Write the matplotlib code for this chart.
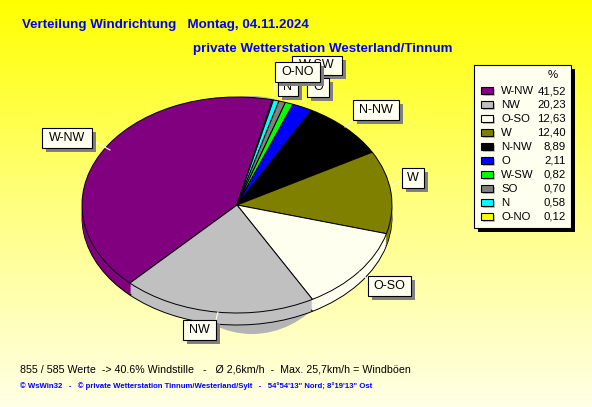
#!/usr/bin/env python3

import matplotlib
matplotlib.use('Agg')
import matplotlib.pyplot as plt
import numpy as np
from matplotlib.patches import Ellipse, Rectangle

plt.rcParams['font.family'] = ['Liberation Sans', 'DejaVu Sans']

# values in pie order, clockwise
pie_names = ['W-NW', 'O-NO', 'N', 'SO', 'W-SW', 'O', 'N-NW', 'W', 'O-SO', 'NW']
pie_values = [41.52, 0.12, 0.58, 0.70, 0.82, 2.11, 8.89, 12.40, 12.63, 20.23]
pie_colors = ['#800080', '#ffff00', '#00ffff', '#808080', '#00ff00', '#0000ff',
    '#000000', '#808000', '#fffff0', '#c0c0c0']

legend_names = ['W-NW', 'NW', 'O-SO', 'W', 'N-NW', 'O', 'W-SW', 'SO', 'N', 'O-NO']
legend_values = ['41,52', '20,23', '12,63', '12,40', '8,89', '2,11', '0,82',
    '0,70', '0,58', '0,12']

W, H = 592, 407
fig = plt.figure(figsize=(W / 100, H / 100), dpi=100)

# background gradient
bg = fig.add_axes([0, 0, 1, 1])
bg.axis('off')
grad = np.linspace(0, 1, 256).reshape(-1, 1)
cmap = matplotlib.colors.LinearSegmentedColormap.from_list('bg',
    ['#ffff00', '#ffff80', '#ffffe6'])
bg.imshow(grad, aspect='auto', cmap=cmap, extent=(0, W, H, 0))
bg.set_xlim(0, W)
bg.set_ylim(H, 0)

# pie axes: ellipse squeezed through the axis limits
cx, cy, rx, ry, depth = 237, 205, 155, 108, 12
pie = fig.add_axes([0, 0, 1, 1])
pie.patch.set_alpha(0)

bg.add_patch(Ellipse((252, 215), 200, 238, color='#b4b4b4', lw=0, zorder=1))

for dy in list(range(depth, 0, -2)) + [0]:
    pie.pie(pie_values, colors=pie_colors, startangle=226.3,
        counterclock=False, center=(0, -dy / ry), radius=1,
        wedgeprops=dict(edgecolor='black' if dy in (depth, 0) else 'none',
            linewidth=0.7))

pie.set_aspect('auto')
pie.set_xlim(-cx / rx, (W - cx) / rx)
pie.set_ylim((cy - H) / ry, cy / ry)
pie.axis('off')

# overlay in pixels
top = fig.add_axes([0, 0, 1, 1])
top.patch.set_alpha(0)
top.set_xlim(0, W)
top.set_ylim(H, 0)
top.axis('off')

FS = 8.2
layer = [4]


def box(x0, y0, x1, y1, text, leader):
    z = layer[0]
    layer[0] += 1
    top.plot(leader[0], leader[1], color='#fffff0', lw=0.8, zorder=3)
    top.add_patch(Rectangle((x0 + 4, y0 + 4), x1 - x0, y1 - y0, color='#808080',
        lw=0, zorder=z))
    top.add_patch(Rectangle((x0, y0), x1 - x0, y1 - y0, fc='#fffff0', ec='black',
        lw=0.8, zorder=z))
    top.text((x0 + x1) / 2, (y0 + y1) / 2, text, ha='center', va='center',
        fontsize=9, zorder=z, clip_on=True)


box(42, 128, 92, 148, 'W-NW', ([92, 110], [140, 150]))
box(353, 100, 399, 120, 'N-NW', ([353, 345], [120, 127]))
box(402, 168, 424, 188, 'W', ([402, 392], [180, 185]))
box(368, 276, 411, 296, 'O-SO', ([368, 360], [280, 272]))
box(183, 320, 216, 340, 'NW', ([216, 218], [320, 312]))
box(292, 56, 342, 75, 'W-SW', ([292, 287], [75, 98]))
box(307, 78, 329, 97, 'O', ([307, 302], [97, 102]))
box(278, 78, 298, 96, 'N', ([285, 280], [96, 98]))
box(275, 62, 320, 82, 'O-NO', ([275, 273], [82, 97]))

# legend
top.add_patch(Rectangle((478, 69), 97, 163, color='black', lw=0, zorder=2))
top.add_patch(Rectangle((474, 65), 97, 163, fc='#fffff0', ec='black', lw=0.8, zorder=3))
top.text(553, 75, '%', ha='center', va='center', fontsize=FS, zorder=4)
color_of = dict(zip(pie_names, pie_colors))
for i, (name, value) in enumerate(zip(legend_names, legend_values)):
    y = 91 + 13.95 * i
    top.add_patch(Rectangle((483, y - 2), 12, 7, color='#c0c0c0', lw=0, zorder=4))
    top.add_patch(Rectangle((481, y - 4), 12, 7, fc=color_of[name], ec='black',
        lw=0.8, zorder=5))
    top.text(501, y, name, va='center', fontsize=FS, zorder=4)
    top.text(566, y, value, ha='right', va='center', fontsize=FS, zorder=4)

# texts
top.text(22, 25, 'Verteilung Windrichtung   Montag, 04.11.2024', color='#0000ff',
    fontweight='bold', fontsize=9.6, va='center')
top.text(193, 49, 'private Wetterstation Westerland/Tinnum', color='#0000ff',
    fontweight='bold', fontsize=9.6, va='center')
top.text(20, 369, '855 / 585 Werte  -> 40.6% Windstille   -   Ø 2,6km/h  -  '
    'Max. 25,7km/h = Windböen', fontsize=7.7, va='center')
top.text(20, 386, '© WsWin32   -   © private Wetterstation Tinnum/Westerland/Sylt'
    '   -   54°54\'13" Nord; 8°19\'13" Ost', color='#0000ff', fontsize=5.6,
    fontweight='bold', va='center')

fig.savefig('out.png', dpi=100)
